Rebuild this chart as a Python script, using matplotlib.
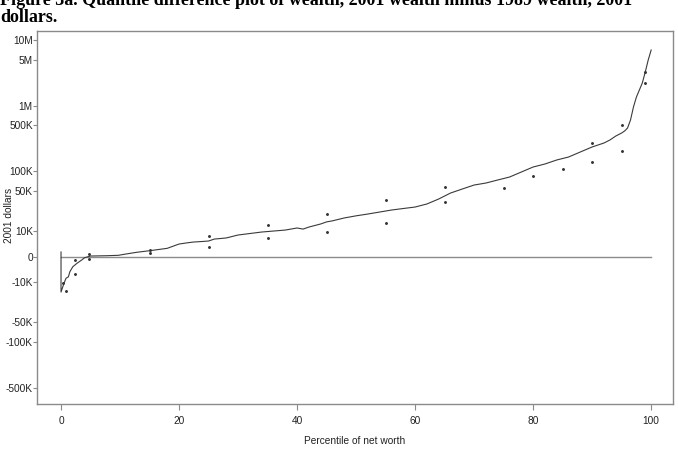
import matplotlib
matplotlib.use('Agg')
import matplotlib.pyplot as plt

# percentile of net worth vs quantile difference (2001 - 1989), 2001 dollars
pct = [0, 0, 0.5, 0.85, 1.25, 1.5, 2, 2.7, 3.5, 4, 5, 7.7, 9.7, 11, 12.8, 15, 18, 20, 21.5,
       22.5, 24, 25, 26, 27, 28, 30, 32, 34, 36, 38, 40, 41, 42, 44, 45, 46, 48, 50,
       52, 54, 56, 58, 60, 62, 64, 66, 68, 70, 72, 74, 76, 78, 80, 82, 84, 86, 88,
       90, 92, 93, 94, 95, 95.5, 96, 96.5, 97, 97.5, 98, 98.5, 99, 99.5, 100]
diff = [1600, -16000, -10900, -8400, -7750, -5600, -3660, -2410, -1240, -420, 175, 280, 420, 880, 1480, 2050, 2920, 4530, 5040,
        5320, 5540, 5720, 6540, 6750, 7000, 8300, 8990, 9710, 10200, 10700, 11800, 11200, 12300, 14100, 15400, 16100, 18100, 19700,
        21150, 22840, 24650, 26100, 27600, 30900, 37100, 46000, 53200, 61300, 65800, 73300, 81400, 97200, 116000, 129000, 148600, 165000, 197000,
        235000, 270000, 300000, 345000, 384000, 412000, 458000, 607000, 958000, 1360000, 1740000, 2230000, 3280000, 5000000, 7100000]

# scattered points
dot_pct = [0.8, 0.4, 2.4, 2.4, 4.8, 4.8, 15, 15, 25, 25, 35, 35, 45, 45, 55, 55, 65, 65,
           75, 80, 85, 90, 90, 95, 95, 99, 99]
dot_val = [-15400, -10900, -1240, -6700, 880, -985, 2320, 1410, 7890, 3400, 13300, 7000, 21150, 9850,
           35500, 14600, 57200, 32800, 54300, 84700, 107000, 273000, 138000, 509000, 204000, 3240000, 2250000]

ytick_vals = [10e6, 5e6, 1e6, 500e3, 100e3, 50e3, 10e3, 0, -10e3, -50e3, -100e3, -500e3]
ytick_labels = ['10M', '5M', '1M', '500K', '100K', '50K', '10K', '0', '-10K', '-50K', '-100K', '-500K']
xtick_vals = [0, 20, 40, 60, 80, 100]

plt.rcParams['font.family'] = ['Liberation Sans', 'DejaVu Sans']

fig = plt.figure(figsize=(6.78, 4.51), dpi=100)
ax = fig.add_axes([37/678, 1 - 404/451, (673-37)/678, (404-30.7)/451])

ax.set_yscale('asinh', linear_width=10000)
ax.plot([0, 100], [0, 0], color='#8c8c8c', lw=1.0)
ax.plot(pct, diff, color='#3a3a3a', lw=0.8)
ax.scatter(dot_pct, dot_val, s=1.2, color='#333333', zorder=3)

ax.set_xlim(-4.07, 103.7)
ax.set_ylim(-892000, 14000000)
ax.set_yticks(ytick_vals)
ax.set_yticklabels(ytick_labels)
ax.minorticks_off()
ax.set_xticks(xtick_vals)

for s in ax.spines.values():
    s.set_color('#8a8a8a')
    s.set_linewidth(1.0)
ax.tick_params(direction='out', length=3, width=0.8, color='#8a8a8a',
               labelsize=7.3, labelcolor='#222222', pad=0)
ax.tick_params(axis='x', length=4, pad=5)

ax.set_xlabel('Percentile of net worth', fontsize=7.3, color='#222222', labelpad=7)
fig.text(9/678, 1 - 215/451, '2001 dollars', rotation=90, fontsize=7.3,
         color='#222222', ha='center', va='center')

fig.text(0.0, 1 - 5/451, 'Figure 3a. Quantile difference plot of wealth, 2001 wealth minus 1989 wealth, 2001',
         family='Liberation Serif', weight='bold', fontsize=13, va='baseline', ha='left')
fig.text(0.0, 1 - 22/451, 'dollars.', family='Liberation Serif', weight='bold',
         fontsize=13, va='baseline', ha='left')

fig.savefig('out.png', dpi=100)
